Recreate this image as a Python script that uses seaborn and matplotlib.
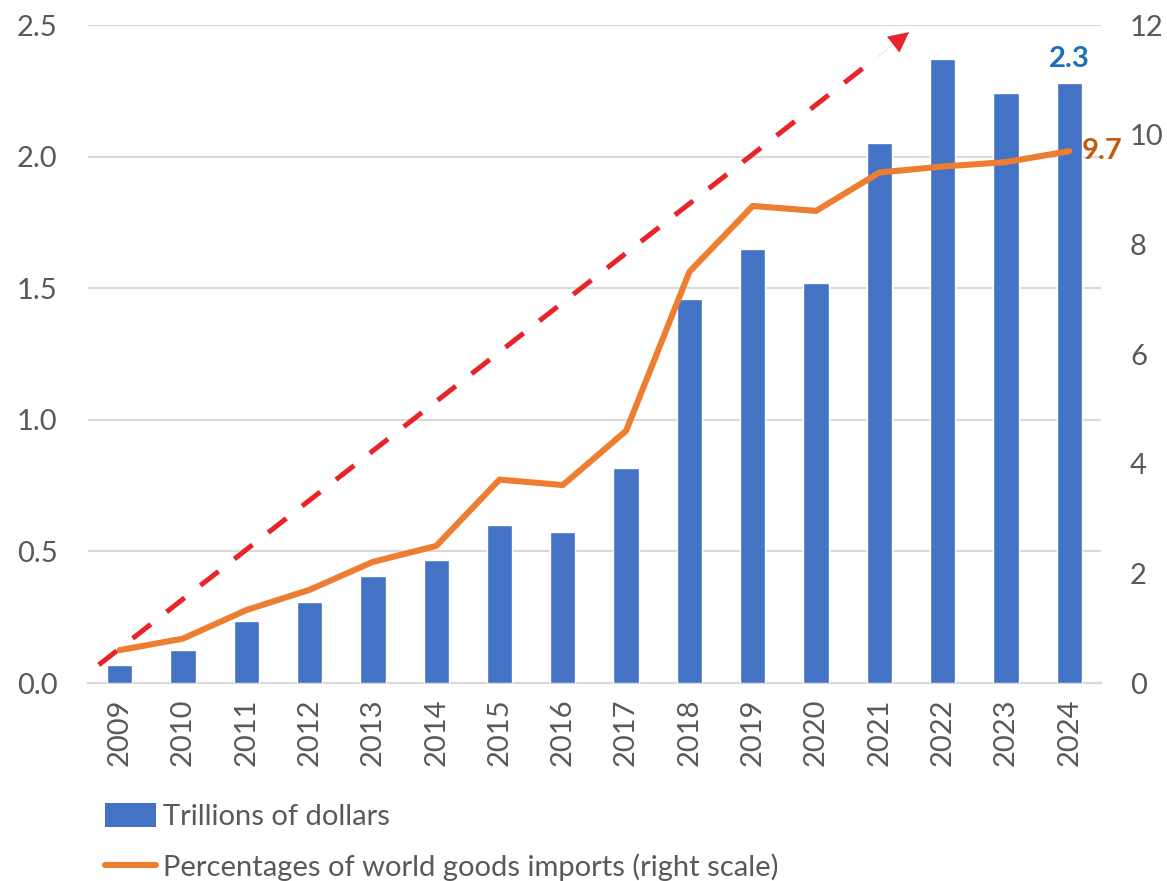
import numpy as np
import pandas as pd
import matplotlib
matplotlib.use("Agg")
import matplotlib.pyplot as plt
from matplotlib.patches import Patch
from matplotlib.lines import Line2D
import seaborn as sns

# Annual values
years = [2009, 2010, 2011, 2012, 2013, 2014, 2015, 2016,
         2017, 2018, 2019, 2020, 2021, 2022, 2023, 2024]
trillions = [0.07, 0.126, 0.235, 0.306, 0.408, 0.468, 0.60, 0.572,
             0.817, 1.46, 1.65, 1.52, 2.05, 2.37, 2.24, 2.28]
share_pct = [0.60, 0.81, 1.33, 1.70, 2.21, 2.50, 3.71, 3.61,
             4.60, 7.50, 8.70, 8.61, 9.31, 9.42, 9.50, 9.70]

left_ticks = [0.0, 0.5, 1.0, 1.5, 2.0, 2.5]
left_ticklabels = ["0.0", "0.5", "1.0", "1.5", "2.0", "2.5"]
right_ticks = [0, 2, 4, 6, 8, 10, 12]

bar_label = "2.3"
line_label = "9.7"
legend_labels = ["Trillions of dollars",
                 "Percentages of world goods imports (right scale)"]

BLUE = "#4472C4"
ORANGE = "#ED7D31"
RED = "#E8242A"
GRID = "#D9D9D9"
TEXT = "#595959"
FS = 21

sns.set_theme(style="white")
plt.rcParams["font.family"] = ["Lato", "DejaVu Sans"]

df = pd.DataFrame({"year": [str(y) for y in years],
                   "value": trillions,
                   "pos": np.arange(len(years)),
                   "share": share_pct})

fig = plt.figure(figsize=(11.67, 8.81), dpi=100)
ax = fig.add_axes([0.0754, 0.2247, 0.868, 0.7469])

sns.barplot(data=df, x="year", y="value", color=BLUE, width=0.4,
            saturation=1, ax=ax, zorder=3)
ax.set_xlim(-0.5, len(years) - 0.5)
ax.set_ylim(0, 2.5)
ax.set_yticks(left_ticks)
ax.set_yticklabels(left_ticklabels)
ax.set_xlabel("")
ax.set_ylabel("")
ax.grid(axis="y", color=GRID, linewidth=1.5, zorder=0)
ax.set_axisbelow(True)
for side in ["top", "left", "right"]:
    ax.spines[side].set_visible(False)
ax.spines["bottom"].set_color(GRID)
ax.spines["bottom"].set_linewidth(1.5)
ax.tick_params(axis="y", length=0, pad=22, labelsize=FS, labelcolor=TEXT)
ax.tick_params(axis="x", length=0, pad=11, labelsize=FS, labelcolor=TEXT,
               labelrotation=90)

ax2 = ax.twinx()
sns.lineplot(data=df, x="pos", y="share", color=ORANGE, linewidth=4.4,
             ax=ax2, zorder=4)
ax2.set_ylim(0, 12)
ax2.set_yticks(right_ticks)
ax2.set_ylabel("")
ax2.set_xlabel("")
for side in ["top", "left", "right", "bottom"]:
    ax2.spines[side].set_visible(False)
ax2.tick_params(axis="y", length=0, pad=21, labelsize=FS, labelcolor=TEXT)
ax2.set_xlim(-0.5, len(years) - 0.5)

# Dashed trend arrow
start = (-0.33, 0.069)
end = (12.47, 2.473)
frac = 0.96
mid = (start[0] + frac * (end[0] - start[0]), start[1] + frac * (end[1] - start[1]))
ax.plot([start[0], mid[0]], [start[1], mid[1]], color=RED, linewidth=3.6,
        dashes=(4.6, 4.0), zorder=5, dash_capstyle="butt")
ax.annotate("", xy=end, xytext=mid,
            arrowprops=dict(arrowstyle="-|>,head_length=1.2,head_width=0.6",
                            color=RED, linewidth=0.1, shrinkA=0, shrinkB=0),
            zorder=6)

# Value labels on the latest year
last = len(years) - 1
ax.annotate(bar_label, xy=(last, trillions[-1]), xytext=(0, 8),
            textcoords="offset points", ha="center", va="bottom",
            fontsize=FS, fontweight="bold", color="#1F6FB8", zorder=7)
ax2.annotate(line_label, xy=(last, share_pct[-1]), xytext=(9, 0),
             textcoords="offset points", ha="left", va="center",
             fontsize=FS, fontweight="bold", color="#C55A11", zorder=7)

handles = [Patch(facecolor=BLUE, edgecolor="none"),
           Line2D([0], [0], color=ORANGE, linewidth=4.4)]
fig.legend(handles, legend_labels, loc="lower left",
           bbox_to_anchor=(0.09, 0.0), bbox_transform=fig.transFigure,
           frameon=False, fontsize=FS, labelcolor=TEXT, handlelength=1.75,
           handleheight=0.85, handletextpad=0.25, labelspacing=0.8,
           borderaxespad=0, borderpad=0)

fig.savefig("out.png", dpi=100)
